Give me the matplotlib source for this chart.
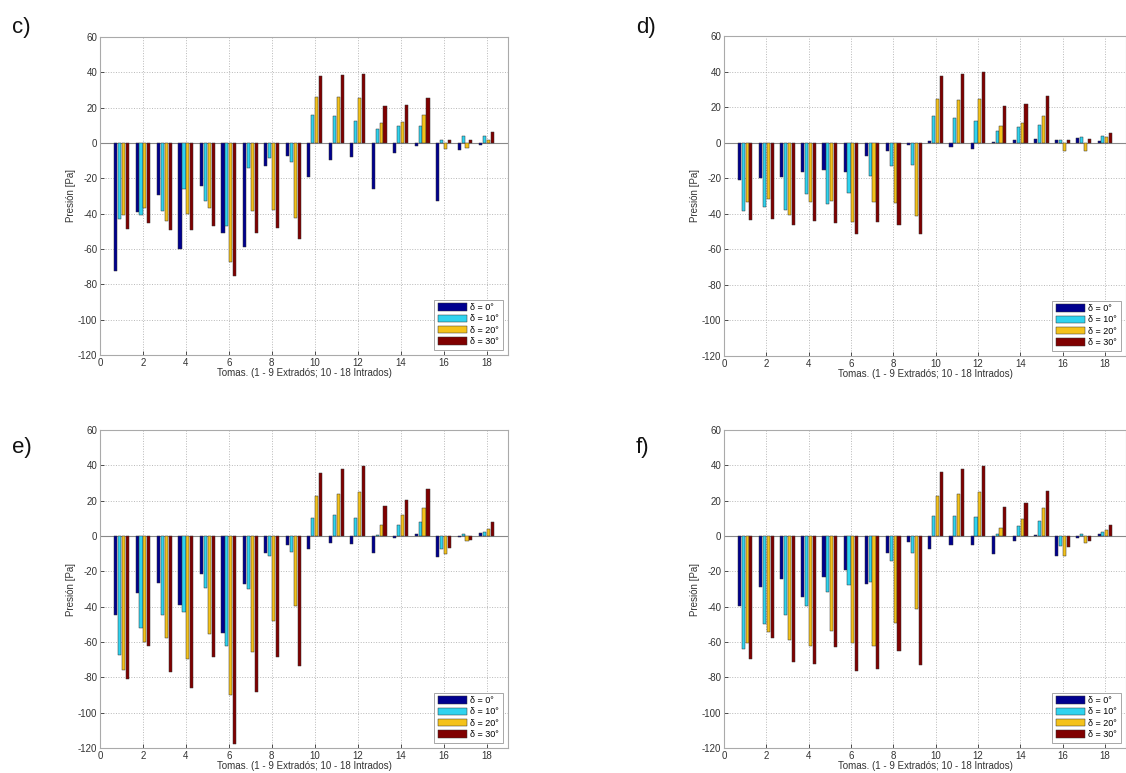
import numpy as np
import matplotlib
matplotlib.use('Agg')
import matplotlib.pyplot as plt

plt.rcParams['font.family'] = ['Liberation Sans', 'DejaVu Sans']
plt.rcParams['axes.unicode_minus'] = False

tomas = np.arange(1, 19)
series_labels = ['δ = 0°', 'δ = 10°', 'δ = 20°', 'δ = 30°']
colors = ['#00008f', '#2fd3ef', '#f4c21a', '#800000']

# c)
c_d0 = [-72.3, -39, -29.4, -60, -24.3, -50.7, -59, -13, -7.5, -19.2, -9.8, -7.7, -26, -5.5, -1.9, -33, -3.7, -0.9]
c_d10 = [-43, -41, -38.6, -25.8, -33, -46.9, -14, -8.5, -10.5, 16, 15.3, 12.6, 7.9, 9.4, 9.7, 1.9, 4.1, 3.7]
c_d20 = [-41, -36.7, -44.4, -40, -37, -67.6, -38.4, -38, -42.2, 26, 26, 25.4, 11.5, 11.9, 15.9, -3.4, -2.6, 1.9]
c_d30 = [-48.8, -45, -49.3, -49.3, -47, -75, -50.7, -48, -54.4, 37.9, 38.4, 39, 20.9, 21.7, 25.2, 1.5, 1.9, 6.2]

# d)
d_d0 = [-21.2, -19.7, -19.1, -16.5, -15.6, -16.5, -7.7, -4.7, -1.3, 0.9, -2.3, -3.7, 0.3, 1.3, 2.2, 1.3, 2.4, 1.0]
d_d10 = [-38.5, -36.4, -38, -28.7, -34.3, -28.5, -18.9, -13.3, -12.8, 15, 13.9, 12.3, 6.5, 8.8, 10.1, 1.3, 3.2, 3.5]
d_d20 = [-33.2, -31.5, -40.7, -33.6, -32.8, -44.5, -33.4, -34.1, -41.3, 24.6, 23.8, 24.7, 9.5, 11, 15.1, -4.7, -4.7, 3.2]
d_d30 = [-43.7, -43, -46.5, -44.3, -45, -51.2, -44.8, -46.5, -51.6, 37.7, 38.6, 39.8, 20.9, 21.7, 26.2, 1.7, 1.9, 5.6]

# e)
e_d0 = [-44.8, -32.4, -26.6, -39, -21.3, -55, -27.3, -9.6, -5.3, -7.3, -4, -4.5, -9.6, -0.9, 0.9, -11.9, -0.6, 1.7]
e_d10 = [-67.6, -51.8, -44.6, -42.9, -29.4, -62, -29.9, -11.1, -9.2, 10.2, 11.7, 10, 0.4, 6.2, 8, -7.1, 0.9, 2]
e_d20 = [-75.7, -60, -57.8, -69.9, -55.4, -89.8, -65.9, -48.2, -39.4, 22.4, 23.9, 24.7, 6.4, 11.7, 15.8, -10.4, -2.6, 3.7]
e_d30 = [-81.2, -62.3, -76.8, -86.3, -68.7, -117.7, -88.3, -68.4, -73.8, 35.8, 37.7, 39.7, 17.1, 20.5, 26.4, -6.9, -2, 7.8]

# f)
f_d0 = [-39.5, -29, -24.1, -34.8, -23, -19.2, -26.9, -9.8, -3.4, -7.3, -5.3, -5.3, -10.1, -2.6, 0.6, -11.3, -0.9, 1.0]
f_d10 = [-63.7, -49.7, -44.8, -39.5, -31.5, -27.7, -26, -13.9, -9.6, 11.5, 11.5, 10.9, 1.3, 5.6, 8.6, -5.4, 0.9, 2.5]
f_d20 = [-60.5, -54.6, -59.1, -62.5, -53.7, -60.6, -62.5, -49.5, -41.4, 22.6, 23.9, 24.8, 4.7, 9.9, 15.8, -11.1, -4.1, 3.5]
f_d30 = [-69.9, -58, -71.4, -72.3, -63.1, -76.3, -75.3, -65.3, -72.9, 36.3, 37.7, 39.6, 16.5, 18.9, 25.7, -6.4, -3, 6.0]

panels = [
    ('c)', [c_d0, c_d10, c_d20, c_d30]),
    ('d)', [d_d0, d_d10, d_d20, d_d30]),
    ('e)', [e_d0, e_d10, e_d20, e_d30]),
    ('f)', [f_d0, f_d10, f_d20, f_d30]),
]

W, H = 1126, 773
fig = plt.figure(figsize=(W / 100, H / 100), dpi=100)

# axes boxes in pixels: left, top, right, bottom
boxes = [(100, 37, 508, 355), (724, 36, 1126, 356),
         (100, 430, 508, 748), (724, 430, 1126, 748)]
letter_pos = [(12, 28), (636, 28), (12, 448), (636, 448)]

step = 0.727 / 4
bw = 0.8 * step

for (name, data), (l, t, r, b), (lx, ly) in zip(panels, boxes, letter_pos):
    ax = fig.add_axes([l / W, 1 - b / H, (r - l) / W, (b - t) / H])
    for k, vals in enumerate(data):
        ax.bar(tomas + (k - 1.5) * step, vals, width=bw, color=colors[k],
               edgecolor='#333333', linewidth=0.35, label=series_labels[k], zorder=3)
    ax.axhline(0, color='#888888', linewidth=0.8, zorder=2)
    ax.set_xlim(0, 19)
    ax.set_ylim(-120, 60)
    ax.set_xticks(np.arange(0, 19, 2))
    ax.set_yticks(np.arange(-120, 61, 20))
    ax.grid(True, linestyle=':', color='#b8b8b8', linewidth=0.7, zorder=0)
    ax.tick_params(direction='in', labelsize=7, colors='#333333', length=3,
                   width=0.6, pad=2)
    for s in ax.spines.values():
        s.set_color('#aaaaaa')
        s.set_linewidth(0.8)
    ax.set_ylabel('Presión [Pa]', fontsize=7, color='#333333', labelpad=1)
    ax.set_xlabel('Tomas. (1 - 9 Extradós; 10 - 18 Intrados)', fontsize=7,
                  color='#333333', labelpad=0)
    leg = ax.legend(loc='lower right', fontsize=6.5, handlelength=3.2,
                    handleheight=0.9, borderpad=0.4, labelspacing=0.25,
                    fancybox=False, framealpha=1, edgecolor='#999999',
                    borderaxespad=0.6, handletextpad=0.4)
    leg.get_frame().set_linewidth(0.6)
    fig.text(lx / W, 1 - ly / H, name, fontsize=16, color='#111111',
             ha='left', va='center')

fig.savefig('out.png', dpi=100)
